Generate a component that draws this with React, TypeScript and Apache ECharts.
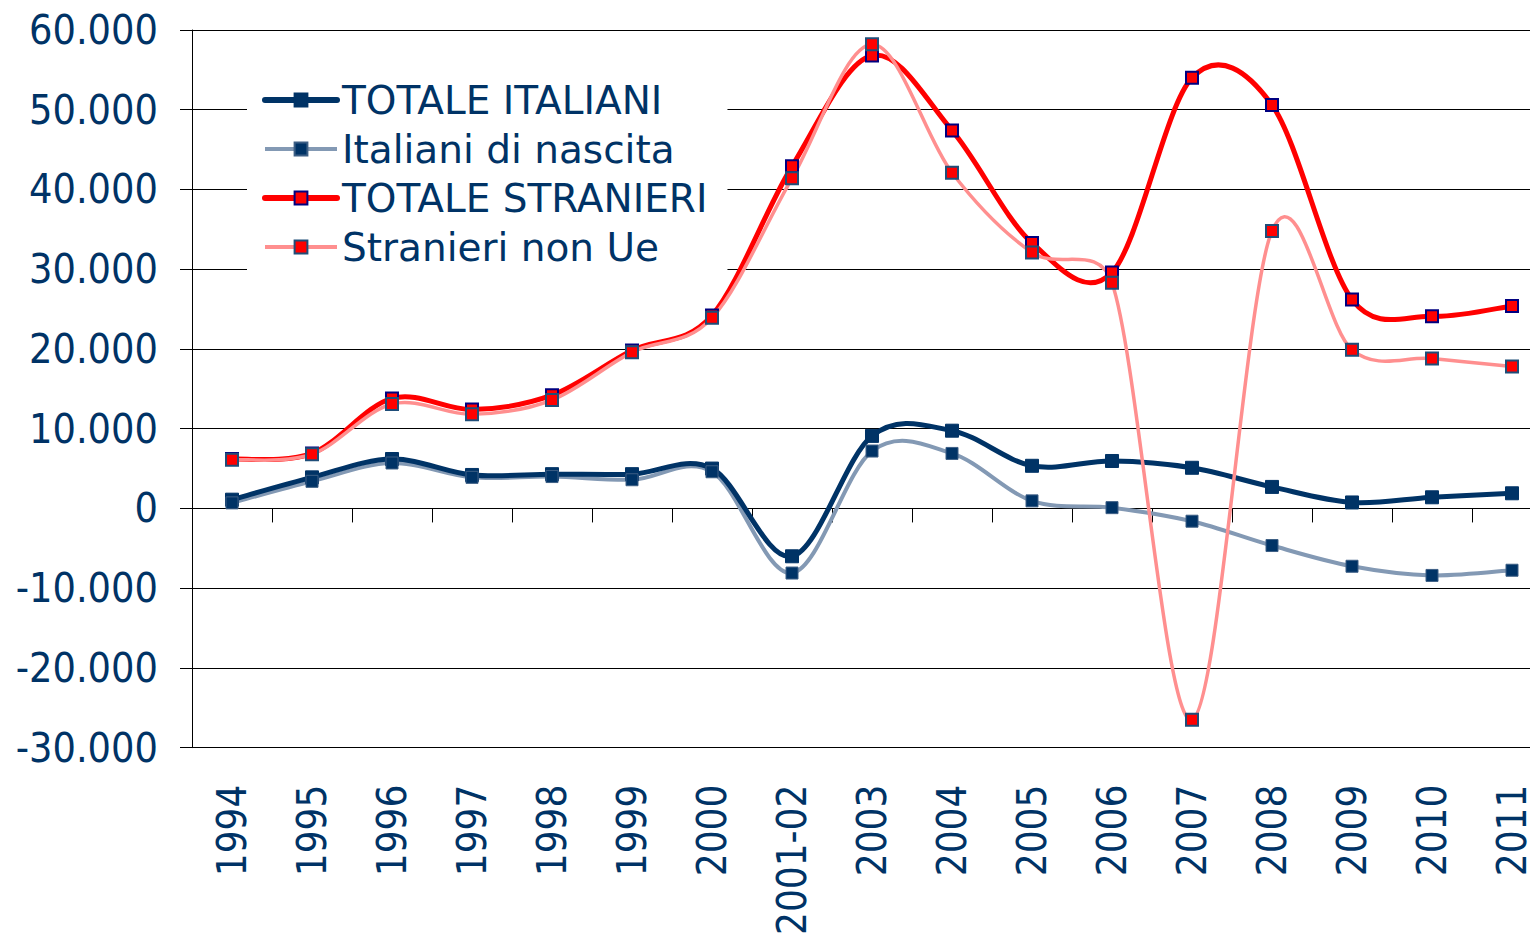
import React, { useEffect, useRef } from "react";
import * as echarts from "echarts";

const categories = ["1994", "1995", "1996", "1997", "1998", "1999", "2000", "2001-02", "2003", "2004", "2005", "2006", "2007", "2008", "2009", "2010", "2011"];
const totaleItaliani = [1100, 3900, 6200, 4200, 4300, 4300, 5000, -6000, 9100, 9750, 5350, 5950, 5100, 2700, 750, 1400, 1900];
const italianiNascita = [700, 3400, 5700, 3900, 4000, 3600, 4600, -8100, 7200, 6900, 950, 100, -1600, -4650, -7250, -8400, -7750];
const totaleStranieri = [6200, 6900, 13800, 12400, 14200, 19800, 24200, 42900, 56800, 47400, 33300, 29600, 54000, 50600, 26200, 24100, 25400];
const stranieriNonUe = [6100, 6800, 13100, 11800, 13600, 19600, 23900, 41400, 58200, 42100, 32100, 28300, -26500, 34800, 19900, 18800, 17800];

const NAVY = "#003366";
const FONT_C = "'DejaVu Sans Condensed', 'DejaVu Sans', sans-serif";
const FONT = "'DejaVu Sans', sans-serif";

const fmt = (v: number) => {
  if (v === 0) return "0";
  const s = String(Math.abs(v)).replace(/\B(?=(\d{3})+(?!\d))/g, ".");
  return (v < 0 ? "-" : "") + s;
};

// arm of a Bezier control point: Catmull-Rom tangent, capped to half the chord length
const arm = (prev: number[], next: number[], chord: number) => {
  let ax = (next[0] - prev[0]) / 6;
  let ay = (next[1] - prev[1]) / 6;
  const len = Math.hypot(ax, ay);
  const cap = chord * 0.5;
  if (len > cap && len > 0) {
    ax *= cap / len;
    ay *= cap / len;
  }
  return [ax, ay];
};

// smooth curve drawn through the library's own coordinate system (Excel-like smoothing)
const curveSeries = (name: string, values: number[], color: string, width: number, z: number) => ({
  name,
  type: "custom",
  silent: true,
  z,
  xAxisIndex: 0,
  yAxisIndex: 0,
  data: values.map((v, i) => [i, v]),
  encode: { x: 0, y: 1 },
  renderItem: (params: any, api: any) => {
    const n = values.length;
    const i = params.dataIndex;
    if (i >= n - 1) return null;
    const p = (k: number) => {
      const kk = Math.max(0, Math.min(n - 1, k));
      return api.coord([kk, values[kk]]);
    };
    const p0 = p(i - 1), p1 = p(i), p2 = p(i + 1), p3 = p(i + 2);
    const chord = Math.hypot(p2[0] - p1[0], p2[1] - p1[1]);
    const a1 = arm(p0, p2, chord);
    const a2 = arm(p1, p3, chord);
    return {
      type: "bezierCurve",
      shape: {
        x1: p1[0], y1: p1[1],
        x2: p2[0], y2: p2[1],
        cpx1: p1[0] + a1[0],
        cpy1: p1[1] + a1[1],
        cpx2: p2[0] - a2[0],
        cpy2: p2[1] - a2[1],
      },
      style: { stroke: color, lineWidth: width, fill: null, lineCap: "round" },
    };
  },
});

const markerSeries = (name: string, values: number[], size: number, fill: string, border: string, bw: number) => ({
  name,
  type: "line",
  data: values,
  symbol: "rect",
  symbolSize: size,
  showAllSymbol: true,
  z: 10,
  lineStyle: { opacity: 0, width: 0 },
  itemStyle: { color: fill, borderColor: border, borderWidth: bw },
});

export default function App() {
  const ref = useRef<HTMLDivElement>(null);
  useEffect(() => {
    document.body.style.margin = "0";
    const chart = echarts.init(ref.current!, undefined, { renderer: "svg" });
    chart.setOption({
      animation: false,
      backgroundColor: "#ffffff",
      textStyle: { fontFamily: FONT_C },
      grid: { left: 192, top: 30, bottom: 190, right: 0, containLabel: false },
      legend: {
        orient: "vertical",
        left: 247,
        top: 60,
        padding: [18, 20, 16, 15],
        backgroundColor: "#ffffff",
        itemWidth: 72,
        itemHeight: 16,
        itemGap: 5,
        z: 20,
        textStyle: { color: NAVY, fontSize: 39, fontFamily: FONT, lineHeight: 44 },
        data: [
          { name: "TOTALE ITALIANI", lineStyle: { color: NAVY, width: 6, opacity: 1, cap: "round" } },
          { name: "Italiani di nascita", lineStyle: { color: "#8399b4", width: 4, opacity: 1 } },
          { name: "TOTALE STRANIERI", lineStyle: { color: "#ff0000", width: 6, opacity: 1, cap: "round" } },
          { name: "Stranieri non Ue", lineStyle: { color: "#ff8f8f", width: 4, opacity: 1 } },
        ],
      },
      xAxis: [
        {
          type: "category",
          data: categories,
          boundaryGap: true,
          position: "bottom",
          axisLine: { show: true, onZero: true, lineStyle: { color: "#000", width: 1 } },
          axisTick: { show: true, interval: 0, length: 14, lineStyle: { color: "#000" } },
          axisLabel: { show: false },
          splitLine: { show: false },
        },
        {
          type: "category",
          data: categories,
          boundaryGap: true,
          position: "bottom",
          axisLine: { show: false, onZero: false },
          axisTick: { show: false },
          axisLabel: { show: true, interval: 0, rotate: 90, margin: 37, color: NAVY, fontSize: 40, lineHeight: 30, fontFamily: FONT_C },
          splitLine: { show: false },
        },
      ],
      yAxis: {
        type: "value",
        min: -30000,
        max: 60000,
        interval: 10000,
        axisLine: { show: true, lineStyle: { color: "#000", width: 1 } },
        axisTick: { show: true, length: 12, lineStyle: { color: "#000" } },
        axisLabel: { formatter: fmt, color: NAVY, fontSize: 41, margin: 34, fontFamily: FONT_C },
        splitLine: { show: true, lineStyle: { color: "#000", width: 1 } },
      },
      series: [
        curveSeries("curve-nascita", italianiNascita, "#8399b4", 4, 3),
        curveSeries("curve-italiani", totaleItaliani, NAVY, 5, 4),
        curveSeries("curve-stranieri", totaleStranieri, "#ff0000", 5, 5),
        curveSeries("curve-nonue", stranieriNonUe, "#ff8f8f", 3.5, 6),
        markerSeries("TOTALE ITALIANI", totaleItaliani, 13, NAVY, NAVY, 1),
        markerSeries("Italiani di nascita", italianiNascita, 12, NAVY, "#3d5f85", 1),
        markerSeries("TOTALE STRANIERI", totaleStranieri, 12, "#ff0000", "#000080", 2),
        markerSeries("Stranieri non Ue", stranieriNonUe, 12, "#ff0000", "#1f4e79", 2),
      ],
    });
    return () => chart.dispose();
  }, []);
  return (
    <div style={{ width: 1530, height: 938, overflow: "hidden" }}>
      <div ref={ref} style={{ width: 1552, height: 938 }} />
    </div>
  );
}
